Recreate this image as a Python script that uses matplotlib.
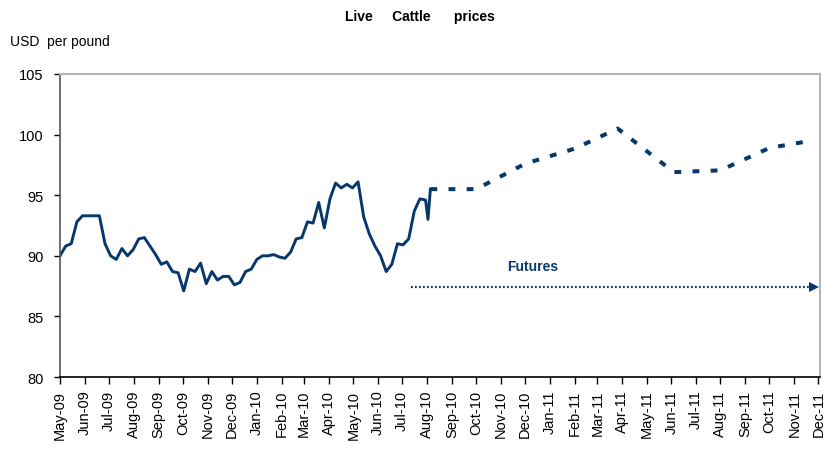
#!/usr/bin/env python3
"""Live cattle prices: weekly spot history plus futures curve."""

import numpy as np
import pandas as pd
import matplotlib
matplotlib.use('Agg')
import matplotlib.pyplot as plt
import matplotlib.dates as mdates

NARROW = ['Liberation Sans Narrow', 'Liberation Sans', 'DejaVu Sans']
NAVY = '#07386b'

# weekly spot prices, USD per pound
spot_dates = list(pd.date_range('2009-05-01', periods=66, freq='7D')) + \
    [pd.Timestamp('2010-08-02'), pd.Timestamp('2010-08-05')]
spot = [90.0, 90.8, 91.0, 92.8, 93.3, 93.3, 93.3, 93.3, 91.0, 90.0,
        89.7, 90.6, 90.0, 90.5, 91.4, 91.5, 90.8, 90.1, 89.3, 89.5,
        88.7, 88.6, 87.1, 88.9, 88.7, 89.4, 87.7, 88.7, 88.0, 88.3,
        88.3, 87.6, 87.8, 88.7, 88.9, 89.7, 90.0, 90.0, 90.1, 89.9,
        89.8, 90.3, 91.4, 91.5, 92.8, 92.7, 94.4, 92.3, 94.7, 96.0,
        95.6, 95.9, 95.6, 96.1, 93.2, 91.8, 90.8, 90.0, 88.7, 89.3,
        91.0, 90.9, 91.4, 93.7, 94.7, 94.6, 93.0, 95.5]

# futures curve
fut_dates = pd.to_datetime(['2010-08-05', '2010-10-01', '2010-12-01',
                            '2011-02-01', '2011-03-26', '2011-06-04',
                            '2011-08-01', '2011-10-01', '2011-11-18'])
futures = [95.5, 95.5, 97.6, 98.85, 100.5, 96.9, 97.05, 98.9, 99.45]

arrow_from = pd.Timestamp('2010-07-12')
arrow_to = pd.Timestamp('2011-11-26')
arrow_level = 87.45

fig = plt.figure(figsize=(8.3, 4.52), dpi=100)
ax = fig.add_axes([0.0723, 0.1637, 0.9157, 0.6704])

ax.plot(spot_dates, spot, color=NAVY, lw=2.1, solid_joinstyle='round')
ax.plot(fut_dates, futures, color=NAVY, lw=2.9, dashes=(1.7, 2.8),
        dash_capstyle='butt')

# futures arrow
ax.plot([arrow_from, arrow_to], [arrow_level, arrow_level], color=NAVY,
        lw=1.6, dashes=(0.8, 1.0))
ax.plot([arrow_to], [arrow_level], marker='>', color=NAVY, ms=7, mew=0)
ax.text(pd.Timestamp('2010-12-10'), 88.55, 'Futures', color=NAVY,
        fontsize=10, fontweight='bold', ha='center', va='bottom',
        family=NARROW)

ax.set_ylim(80, 105)
ax.set_yticks([80, 85, 90, 95, 100, 105])
ax.set_xlim(pd.Timestamp('2009-05-01'), pd.Timestamp('2011-12-03'))
ax.xaxis.set_major_locator(mdates.MonthLocator())
ax.xaxis.set_major_formatter(mdates.DateFormatter('%b-%y'))

for lab in ax.get_yticklabels():
    lab.set_family(NARROW)
    lab.set_fontsize(10.5)
for lab in ax.get_xticklabels():
    lab.set_family(['Liberation Sans', 'DejaVu Sans'])
    lab.set_fontsize(10.5)
    lab.set_rotation(90)

ax.tick_params(axis='y', direction='out', length=4, width=1, pad=8,
               colors='black')
ax.tick_params(axis='x', direction='out', length=5, width=1, pad=4)
for side in ('top', 'right'):
    ax.spines[side].set_color('#b4b4b4')
    ax.spines[side].set_linewidth(1.5)
ax.spines['left'].set_color('#555555')
ax.spines['bottom'].set_color('black')
ax.spines['left'].set_linewidth(1.2)
ax.spines['bottom'].set_linewidth(1.2)

fig.text(0.506, 0.962, 'Live     Cattle      prices', ha='center',
         va='center', fontsize=10, fontweight='bold', family=NARROW)
fig.text(0.012, 0.906, 'USD  per pound', ha='left', va='center',
         fontsize=10, family=NARROW)

fig.savefig('out.png', dpi=100)
plt.close(fig)
